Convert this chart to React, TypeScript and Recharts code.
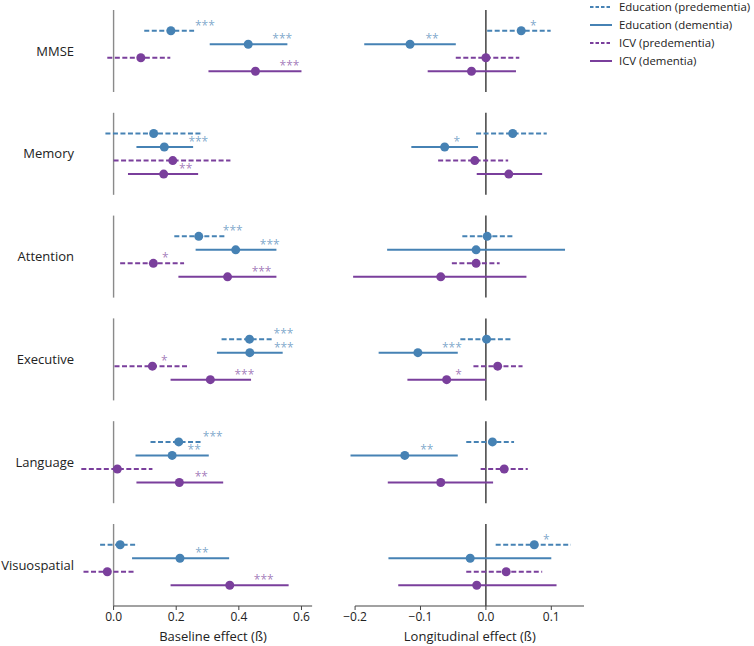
import React from "react";
import { ScatterChart, Scatter, XAxis, YAxis, ErrorBar, ReferenceLine } from "recharts";

const domains = ["MMSE", "Memory", "Attention", "Executive", "Language", "Visuospatial"];

// each entry: [lower, estimate, upper]
const baseEduPre = [[0.098, 0.183, 0.257], [-0.026, 0.128, 0.281], [0.194, 0.272, 0.355], [0.345, 0.434, 0.505], [0.118, 0.208, 0.279], [-0.043, 0.021, 0.076]];
const baseEduDem = [[0.307, 0.43, 0.555], [0.073, 0.162, 0.254], [0.262, 0.39, 0.52], [0.33, 0.435, 0.54], [0.07, 0.187, 0.304], [0.059, 0.212, 0.369]];
const baseIcvPre = [[-0.02, 0.087, 0.181], [0.0, 0.189, 0.373], [0.021, 0.127, 0.225], [0.003, 0.124, 0.241], [-0.103, 0.012, 0.124], [-0.096, -0.02, 0.064]];
const baseIcvDem = [[0.303, 0.453, 0.6], [0.046, 0.16, 0.27], [0.207, 0.364, 0.52], [0.182, 0.309, 0.439], [0.073, 0.21, 0.35], [0.182, 0.371, 0.559]];

const baseEduPreStars = ["***", "", "***", "***", "***", ""];
const baseEduDemStars = ["***", "***", "***", "***", "**", "**"];
const baseIcvPreStars = ["", "", "*", "*", "", ""];
const baseIcvDemStars = ["***", "**", "***", "***", "**", "***"];

const longEduPre = [[0.002, 0.054, 0.099], [-0.015, 0.041, 0.093], [-0.036, 0.002, 0.041], [-0.039, 0.001, 0.038], [-0.03, 0.01, 0.043], [0.015, 0.074, 0.13]];
const longEduDem = [[-0.186, -0.116, -0.046], [-0.114, -0.063, -0.012], [-0.151, -0.015, 0.121], [-0.164, -0.104, -0.043], [-0.207, -0.124, -0.043], [-0.149, -0.024, 0.1]];
const longIcvPre = [[-0.046, 0.0, 0.051], [-0.073, -0.017, 0.034], [-0.052, -0.015, 0.021], [-0.019, 0.018, 0.056], [-0.008, 0.028, 0.064], [-0.03, 0.031, 0.086]];
const longIcvDem = [[-0.089, -0.022, 0.046], [-0.014, 0.035, 0.086], [-0.203, -0.069, 0.062], [-0.12, -0.06, 0.0], [-0.15, -0.069, 0.011], [-0.134, -0.014, 0.108]];

const longEduPreStars = ["*", "", "", "", "", "*"];
const longEduDemStars = ["**", "*", "", "***", "**", ""];
const longIcvPreStars = ["", "", "", "", "", ""];
const longIcvDemStars = ["", "", "", "*", "", ""];

const baseTicks = [0, 0.2, 0.4, 0.6];
const longTicks = [-0.2, -0.1, 0, 0.1];

const BLUE = "#4682b4";
const PURPLE = "#7a3f9c";
const DASH = "5 2.5";

const series = [
  { name: "Education (predementia)", color: BLUE, dashed: true },
  { name: "Education (dementia)", color: BLUE, dashed: false },
  { name: "ICV (predementia)", color: PURPLE, dashed: true },
  { name: "ICV (dementia)", color: PURPLE, dashed: false },
];

const SLOT = 0.1314;
const HALF = 0.399;
const starShift: Record<number, number> = { 1: 12, 2: 22, 3: 34 };

const fmt = (v: number) => (v < 0 ? "\u2212" + Math.abs(v).toFixed(1) : v.toFixed(1));

function buildRows(values: number[][], stars: string[], slot: number) {
  return values.map(([lo, est, hi], i) => ({
    x: est,
    y: i + (slot - 1.5) * SLOT,
    err: [est - lo, hi - est],
    stars: stars[i],
  }));
}

function Panel(props: any) {
  const { values, stars, domain, ticks, spine, zeroColor, label, labelShift, width, left, right, yWidth } = props;
  return (
    <ScatterChart width={width} height={646} margin={{ top: 10, right, bottom: 0, left }}>
      <XAxis
        type="number"
        dataKey="x"
        domain={domain}
        allowDataOverflow
        ticks={ticks}
        tickFormatter={fmt}
        axisLine={false}
        tickSize={4}
        tickLine={{ stroke: "#444" }}
        tick={{ fill: "#222", fontSize: 12 }}
        height={40}
        label={{ value: label, position: "insideBottom", offset: 5, dx: labelShift, fill: "#222", fontSize: 13 }}
      />
      <YAxis
        type="number"
        dataKey="y"
        domain={[-HALF, 5 + HALF]}
        reversed
        allowDataOverflow
        ticks={[0, 1, 2, 3, 4, 5]}
        tickFormatter={(v: number) => domains[v]}
        axisLine={false}
        tickLine={false}
        tickSize={0}
        tickMargin={2}
        width={yWidth}
        hide={yWidth === 0}
        tick={{ fill: "#222", fontSize: 13 }}
      />
      {domains.map((d, i) => (
        <ReferenceLine
          key={d}
          segment={[{ x: 0, y: i - HALF }, { x: 0, y: i + HALF }]}
          stroke={zeroColor}
          strokeWidth={1.4}
        />
      ))}
      <ReferenceLine
        segment={[{ x: spine[0], y: 5 + HALF }, { x: spine[1], y: 5 + HALF }]}
        stroke="#444"
        strokeWidth={1.2}
      />
      {series.map((s, k) => (
        <Scatter
          key={s.name}
          name={s.name}
          data={buildRows(values[k], stars[k], k)}
          fill={s.color}
          isAnimationActive={false}
          shape={(p: any) => {
            const txt = p.payload.stars;
            return (
              <g>
                <circle cx={p.cx} cy={p.cy} r={4.5} fill={s.color} />
                {txt ? (
                  <text
                    x={p.cx + starShift[txt.length]}
                    y={p.cy - 1}
                    textAnchor="middle"
                    fontSize={12}
                    fill={s.color}
                    fillOpacity={0.7}
                  >
                    {txt}
                  </text>
                ) : null}
              </g>
            );
          }}
        >
          <ErrorBar
            dataKey="err"
            direction="x"
            width={0}
            stroke={s.color}
            strokeWidth={2}
            strokeDasharray={s.dashed ? DASH : undefined}
            isAnimationActive={false}
          />
        </Scatter>
      ))}
    </ScatterChart>
  );
}

function LegendBox() {
  return (
    <svg width={164} height={72} style={{ position: "absolute", left: 590, top: 0 }}>
      {series.map((s, i) => (
        <g key={s.name}>
          <line
            x1={0}
            x2={22}
            y1={7 + i * 18}
            y2={7 + i * 18}
            stroke={s.color}
            strokeWidth={2}
            strokeDasharray={s.dashed ? "3.5 2" : undefined}
          />
          <text x={29} y={11 + i * 18} fontSize={11.4} fill="#222">
            {s.name}
          </text>
        </g>
      ))}
    </svg>
  );
}

export default function App() {
  return (
    <div style={{ position: "absolute", left: 0, top: 0, width: 754, height: 646, fontFamily: "'Open Sans', sans-serif", background: "#fff" }}>
      <div style={{ position: "absolute", left: 0, top: 0 }}>
        <Panel
          values={[baseEduPre, baseEduDem, baseIcvPre, baseIcvDem]}
          stars={[baseEduPreStars, baseEduDemStars, baseIcvPreStars, baseIcvDemStars]}
          domain={[-0.12, 0.64]}
          ticks={baseTicks}
          spine={[0, 0.634]}
          zeroColor="#8a8a8a"
          label="Baseline effect (ß)"
          labelShift={18}
          width={330}
          left={0}
          right={16}
          yWidth={76}
        />
      </div>
      <div style={{ position: "absolute", left: 330, top: 0 }}>
        <Panel
          values={[longEduPre, longEduDem, longIcvPre, longIcvDem]}
          stars={[longEduPreStars, longEduDemStars, longIcvPreStars, longIcvDemStars]}
          domain={[-0.2145, 0.15]}
          ticks={longTicks}
          spine={[-0.2, 0.15]}
          zeroColor="#333"
          label="Longitudinal effect (ß)"
          labelShift={5}
          width={424}
          left={15.6}
          right={170}
          yWidth={0}
        />
      </div>
      <LegendBox />
    </div>
  );
}
